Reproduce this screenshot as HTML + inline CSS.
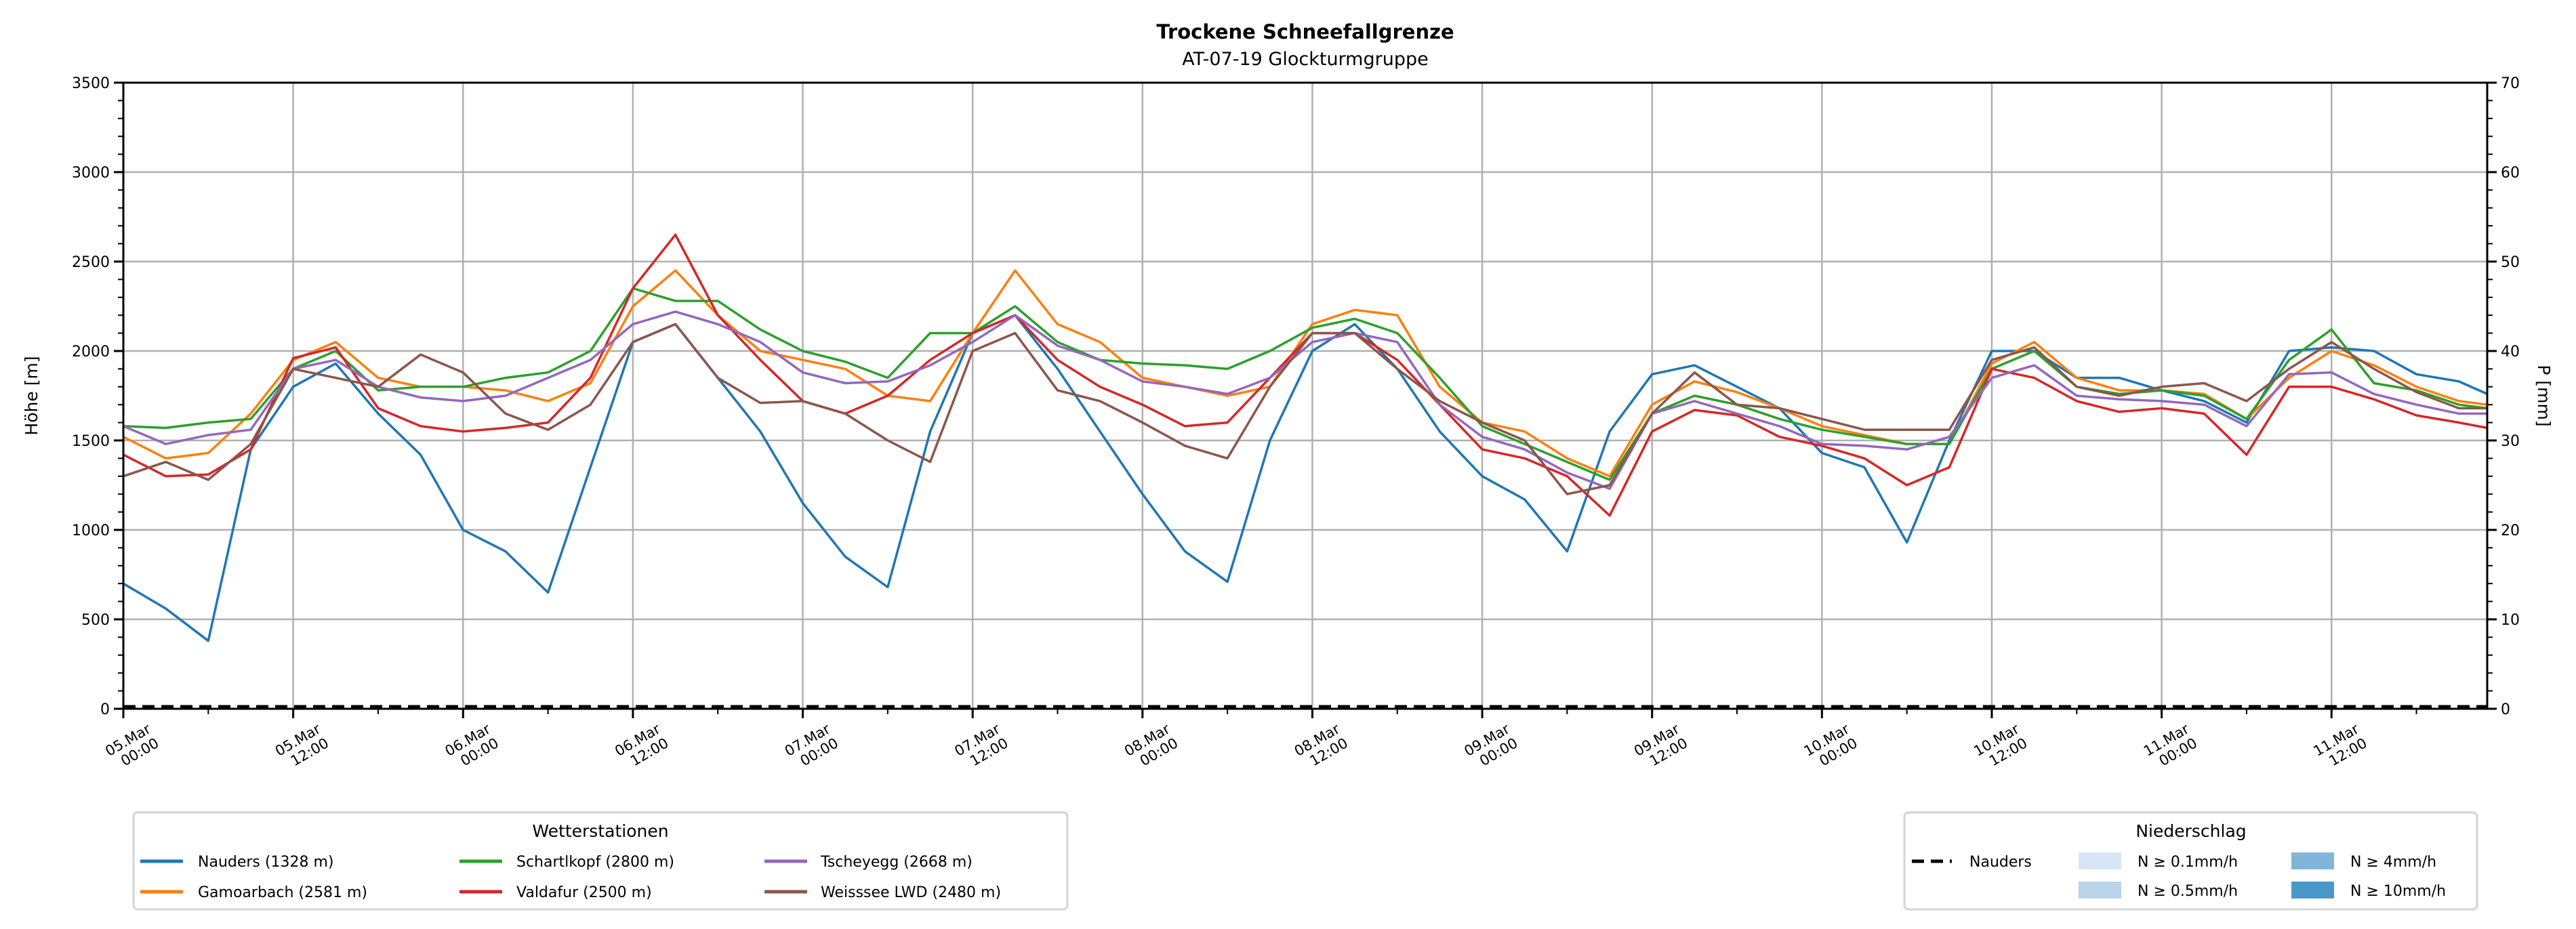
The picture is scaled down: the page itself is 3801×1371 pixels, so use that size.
<!DOCTYPE html>
<html><head><meta charset="utf-8"><style>
html,body{margin:0;padding:0;background:#fff;}
svg{display:block;font-family:"DejaVu Sans","Liberation Sans",sans-serif;}
</style></head><body>
<svg id="chart" width="3801" height="1371" viewBox="0 0 3801 1371" xmlns="http://www.w3.org/2000/svg">
<rect width="3801" height="1371" fill="#fff"/>
<text x="1926" y="57" text-anchor="middle" font-size="29" font-weight="bold">Trockene Schneefallgrenze</text>
<text x="1926" y="96" text-anchor="middle" font-size="27">AT-07-19 Glockturmgruppe</text>
<g id="grid"></g><g id="series"></g><g id="axes"></g>
<text transform="translate(55,584) rotate(-90)" text-anchor="middle" font-size="25">Höhe [m]</text>
<text transform="translate(3745,584) rotate(90)" text-anchor="middle" font-size="25">P [mm]</text>
<g>
<rect x="197" y="1199" width="1378" height="143" rx="6" fill="#fff" stroke="#d4d4d4" stroke-width="3"/>
<text x="886" y="1235" text-anchor="middle" font-size="25">Wetterstationen</text>
<g id="leg1"></g>
</g>
<g>
<rect x="2810" y="1199" width="845" height="143" rx="6" fill="#fff" stroke="#d4d4d4" stroke-width="3"/>
<text x="3233" y="1235" text-anchor="middle" font-size="25">Niederschlag</text>
<line x1="2821" y1="1271" x2="2880" y2="1271" stroke="#000" stroke-width="5" stroke-dasharray="18,10"/>
<text x="2906" y="1279" font-size="22">Nauders</text>
<rect x="3067" y="1258" width="63" height="25" fill="#d6e6f4"/>
<text x="3154" y="1279" font-size="22">N ≥ 0.1mm/h</text>
<rect x="3067" y="1301" width="63" height="25" fill="#b7d4ea"/>
<text x="3154" y="1322" font-size="22">N ≥ 0.5mm/h</text>
<rect x="3381" y="1258" width="63" height="25" fill="#7fb6d9"/>
<text x="3468" y="1279" font-size="22">N ≥ 4mm/h</text>
<rect x="3381" y="1301" width="63" height="25" fill="#4a98c9"/>
<text x="3468" y="1322" font-size="22">N ≥ 10mm/h</text>
</g>
</svg>
<script>
const hours=[0,3,6,9,12,15,18,21,24,27,30,33,36,39,42,45,48,51,54,57,60,63,66,69,72,75,78,81,84,87,90,93,96,99,102,105,108,111,114,117,120,123,126,129,132,135,138,141,144,147,150,153,156,159,162,165,167];
const nauders=[700,560,380,1450,1800,1930,1650,1420,1000,880,650,1350,2050,2150,1850,1550,1150,850,680,1550,2100,2200,1900,1550,1200,880,710,1500,2000,2150,1900,1550,1300,1170,880,1550,1870,1920,1800,1680,1430,1350,930,1500,2000,2000,1850,1850,1780,1720,1600,2000,2020,2000,1870,1830,1760];
const gamoarbach=[1520,1400,1430,1650,1950,2050,1850,1800,1800,1780,1720,1820,2250,2450,2200,2000,1950,1900,1750,1720,2100,2450,2150,2050,1850,1800,1750,1800,2150,2230,2200,1800,1600,1550,1400,1300,1700,1830,1770,1680,1580,1530,1480,1480,1930,2050,1850,1780,1780,1760,1620,1850,2000,1920,1800,1720,1700];
const schartlkopf=[1580,1570,1600,1620,1900,2000,1780,1800,1800,1850,1880,2000,2350,2280,2280,2120,2000,1940,1850,2100,2100,2250,2050,1950,1930,1920,1900,2000,2130,2180,2100,1850,1580,1480,1380,1280,1650,1750,1700,1620,1560,1520,1480,1480,1900,2000,1800,1760,1780,1750,1620,1950,2120,1820,1780,1700,1680];
const valdafur=[1420,1300,1310,1450,1960,2020,1680,1580,1550,1570,1600,1850,2350,2650,2200,1950,1720,1650,1750,1950,2100,2200,1950,1800,1700,1580,1600,1850,2100,2100,1950,1700,1450,1400,1300,1080,1550,1670,1640,1520,1470,1400,1250,1350,1900,1850,1720,1660,1680,1650,1420,1800,1800,1730,1640,1600,1570];
const tscheyegg=[1580,1480,1530,1560,1900,1950,1800,1740,1720,1750,1850,1950,2150,2220,2150,2050,1880,1820,1830,1920,2050,2200,2030,1950,1830,1800,1760,1850,2050,2100,2050,1700,1520,1450,1320,1230,1650,1720,1650,1580,1480,1470,1450,1520,1850,1920,1750,1730,1720,1700,1580,1870,1880,1760,1700,1650,1650];
const weisssee=[1300,1380,1280,1480,1900,1850,1800,1980,1880,1650,1560,1700,2050,2150,1850,1710,1720,1650,1500,1380,2000,2100,1780,1720,1600,1470,1400,1800,2100,2100,1900,1720,1600,1500,1200,1250,1650,1880,1700,1680,1620,1560,1560,1560,1950,2020,1800,1750,1800,1820,1720,1900,2050,1900,1770,1680,1680];
const precipNauders=[0,0];
const precipHours=[0,167];
const yTicks=[0,500,1000,1500,2000,2500,3000,3500];
const y2Ticks=[0,10,20,30,40,50,60,70];
const xTickLabels=[["05.Mar","00:00"],["05.Mar","12:00"],["06.Mar","00:00"],["06.Mar","12:00"],["07.Mar","00:00"],["07.Mar","12:00"],["08.Mar","00:00"],["08.Mar","12:00"],["09.Mar","00:00"],["09.Mar","12:00"],["10.Mar","00:00"],["10.Mar","12:00"],["11.Mar","00:00"],["11.Mar","12:00"]];

const NS="http://www.w3.org/2000/svg";
const L=182,R=3670,T=122,B=1046,XMAX=167,YMAX=3500,PMAX=70;
const xs=h=>L+(R-L)*h/XMAX;
const ys=v=>B-(B-T)*v/YMAX;
const ps=v=>B-(B-T)*v/PMAX;
function mk(tag,attrs,parent){const e=document.createElementNS(NS,tag);for(const k in attrs)e.setAttribute(k,attrs[k]);parent.appendChild(e);return e;}
const grid=document.getElementById('grid'),axes=document.getElementById('axes'),ser=document.getElementById('series');
xTickLabels.forEach((lab,i)=>{const x=xs(i*12);
 const g=mk('line',{x1:x,x2:x,y1:T,y2:B,stroke:'#b0b0b0','stroke-width':2.5},grid);
 
 
 mk('line',{x1:x,x2:x,y1:B,y2:B+14,stroke:'#000','stroke-width':3},axes);
 const t=mk('text',{transform:`translate(${x+42},${B+34}) rotate(-30)`,'text-anchor':'end','font-size':21},axes);
 
 
 const a=mk('tspan',{x:0,y:0},t);a.textContent=lab[0];
 const b=mk('tspan',{x:0,dy:24},t);b.textContent=lab[1];
});
for(let h=6;h<XMAX;h+=12){const x=xs(h);mk('line',{x1:x,x2:x,y1:B,y2:B+8,stroke:'#000','stroke-width':2},axes);}
yTicks.forEach(v=>{const y=ys(v);
 const g=mk('line',{x1:L,x2:R,y1:y,y2:y,stroke:'#b0b0b0','stroke-width':2.5},grid);
 
 
 mk('line',{x1:L-14,x2:L,y1:y,y2:y,stroke:'#000','stroke-width':3},axes);
 const t=mk('text',{x:L-20,y:y+8,'text-anchor':'end','font-size':22},axes);
 
 
 t.textContent=v;
});
for(let v=100;v<YMAX;v+=100){if(v%500)mk('line',{x1:L-8,x2:L,y1:ys(v),y2:ys(v),stroke:'#000','stroke-width':2},axes);}
y2Ticks.forEach(v=>{const y=ps(v);
 mk('line',{x1:R,x2:R+14,y1:y,y2:y,stroke:'#000','stroke-width':3},axes);
 const t=mk('text',{x:R+20,y:y+8,'font-size':22},axes);
 
 
 t.textContent=v;
});
for(let v=2;v<PMAX;v+=2){if(v%10)mk('line',{x1:R,x2:R+8,y1:ps(v),y2:ps(v),stroke:'#000','stroke-width':2},axes);}
mk('rect',{x:L,y:T,width:R-L,height:B-T,fill:'none',stroke:'#000','stroke-width':3},axes);
const series=[["nauders",nauders,"#1f77b4","Nauders (1328 m)"],["gamoarbach",gamoarbach,"#ff7f0e","Gamoarbach (2581 m)"],["schartlkopf",schartlkopf,"#2ca02c","Schartlkopf (2800 m)"],["valdafur",valdafur,"#d62728","Valdafur (2500 m)"],["tscheyegg",tscheyegg,"#9467bd","Tscheyegg (2668 m)"],["weisssee",weisssee,"#8c564b","Weisssee LWD (2480 m)"]];
series.forEach(s=>{
 const d=s[1].map((v,i)=>(i?'L':'M')+xs(hours[i]).toFixed(1)+','+ys(v).toFixed(1)).join(' ');
 const p=mk('path',{d:d,fill:'none',stroke:s[2],'stroke-width':3.5,'stroke-linejoin':'round'},ser);
 
 
});
const pd=precipNauders.map((v,i)=>(i?'L':'M')+xs(precipHours[i])+','+(ps(v)-3)).join(' ');
const pl=mk('path',{d:pd,fill:'none',stroke:'#000','stroke-width':5,'stroke-dasharray':'18,10'},ser);


const leg=document.getElementById('leg1');
const cols=[[207,292],[678,762],[1128,1211]];
series.forEach((s,i)=>{const c=cols[Math.floor(i/2)],y=i%2?1316:1271;
 mk('line',{x1:c[0],x2:c[0]+63,y1:y,y2:y,stroke:s[2],'stroke-width':5},leg);
 const t=mk('text',{x:c[1],y:y+8,'font-size':22},leg);
 
 
 t.textContent=s[3];
});
</script>
</body></html>
